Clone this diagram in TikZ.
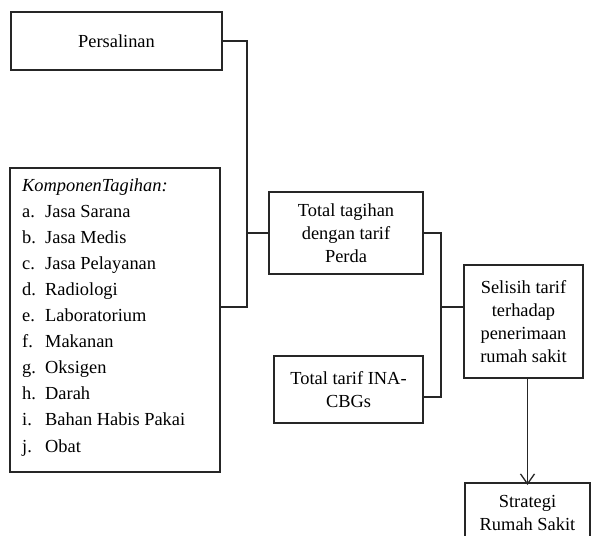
\documentclass[tikz,border=0pt]{standalone}
\usepackage{fontspec}
\setmainfont{Liberation Serif}
\usetikzlibrary{arrows.meta}
\begin{document}
\begin{tikzpicture}[x=1pt,y=-1pt,
  box/.style={draw=black!85,line width=1.5pt,rectangle,inner sep=0pt,align=center,
    font=\fontsize{18.4}{23}\selectfont},
  conn/.style={draw=black!85,line width=1.3pt},
  lst/.style={anchor=base west,inner sep=0pt,font=\fontsize{18.4}{23}\selectfont}]
\useasboundingbox (0,0) rectangle (591,535);
\fill[white] (0,0) rectangle (591,535);
% boxes
\node[box,minimum width=211pt,minimum height=58pt] (pers) at (116.5,41) {Persalinan};
\node[box,minimum width=210pt,minimum height=304pt] (komp) at (115,320) {};
\node[box,minimum width=154pt,minimum height=82pt] (tot) at (346,233) {Total tagihan\\dengan tarif\\Perda};
\node[box,minimum width=149pt,minimum height=67pt] (ina) at (348.5,389.5) {Total tarif INA-\\CBGs};
\node[box,minimum width=119pt,minimum height=113pt] (sel) at (523.5,321.5) {Selisih tarif\\terhadap\\penerimaan\\rumah sakit};
\node[box,minimum width=125pt,minimum height=60pt,anchor=north] (str) at (527.5,482) {Strategi\\Rumah Sakit};
% component list
\node[lst] (kt) at (22,191) {\textit{KomponenTagihan:}};
\foreach \l/\t [count=\i] in {a./Jasa Sarana,b./Jasa Medis,c./Jasa Pelayanan,d./Radiologi,e./Laboratorium,f./Makanan,g./Oksigen,h./Darah,i./Bahan Habis Pakai,j./Obat}{
  \node[lst] (l\i) at (22,{191+26.1*\i}) {\makebox[23pt][l]{\l}\t};
}
% junctions
\coordinate (j1) at (247,233);
\coordinate (kout) at (220,307);
\coordinate (j2) at (441,307);
\coordinate (iout) at (423,397);
% connectors
\draw[conn] (pers.east) -| (j1);
\draw[conn] (kout) -| (j1);
\draw[conn] (j1) -- (tot.west);
\draw[conn] (tot.east) -| (j2);
\draw[conn] (iout) -| (j2);
\draw[conn] (j2) -- (sel.west |- j2);
\draw[conn,-{Straight Barb[length=10pt,width=14pt,line width=1.3pt]}] (str.north |- sel.south) -- ([yshift=-3pt]str.north);
\end{tikzpicture}
\end{document}
